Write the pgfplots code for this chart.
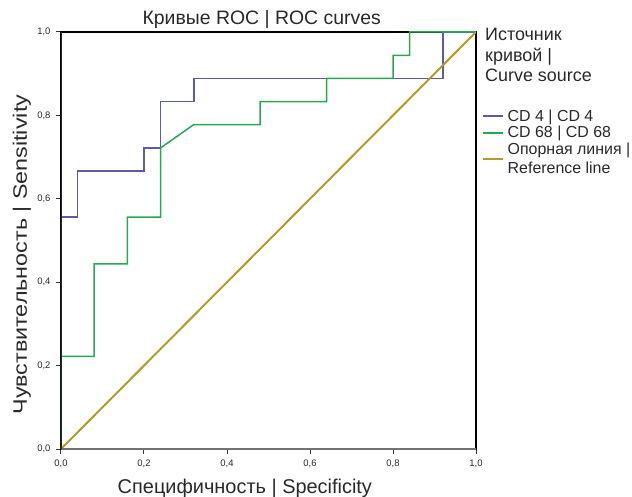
\documentclass[border=0pt]{standalone}
\usepackage{pgfplots}
\pgfplotsset{compat=1.18}
\usepackage{fontspec}
\setmainfont{Liberation Sans}
\definecolor{txt}{RGB}{40,40,40}
\definecolor{cdblue}{RGB}{92,92,165}
\definecolor{cdgreen}{RGB}{40,168,80}
\definecolor{refol}{RGB}{178,156,40}
\begin{document}
\begin{tikzpicture}
\begin{axis}[
  name=ax,
  at={(0,0)}, anchor=south west,
  scale only axis, width=415bp, height=417bp,
  xmin=0, xmax=1, ymin=0, ymax=1,
  xtick={0,0.2,0.4,0.6,0.8,1}, ytick={0,0.2,0.4,0.6,0.8,1},
  tick align=outside, xtick pos=bottom, ytick pos=left,
  major tick length=5bp,
  tick style={black!80, line width=1bp},
  /pgf/number format/.cd, fixed, fixed zerofill, precision=1, use comma, assume math mode=true,
  /pgfplots/.cd,
  ticklabel style={font=\fontsize{9.5}{10}\selectfont, text=txt},
  xticklabel style={yshift=-2bp},
  yticklabel style={xshift=-2bp},
  axis line style={black, line width=1.4bp},
  title={Кривые ROC | ROC curves},
  every axis title/.style={at={(rel axis cs:0.4836,1)}, anchor=base, yshift=7bp, font=\fontsize{19.5}{22}\selectfont, text=txt},
  xlabel={Специфичность | Specificity},
  every axis x label/.style={at={(rel axis cs:0.443,0)}, anchor=base, yshift=-44bp, font=\fontsize{20}{22}\selectfont, text=txt},
  ylabel={\scalebox{1.2}[1]{Чувствительность | Sensitivity}},
  every axis y label/.style={at={(rel axis cs:0,0.466)}, xshift=-39bp, rotate=90, anchor=center, font=\fontsize{19.5}{22}\selectfont, text=txt},
  legend style={at={(rel axis cs:1,1)}, anchor=north west, xshift=5bp, yshift=-75bp, draw=none, fill=none,
    font=\fontsize{16}{19}\selectfont, text=txt, row sep=0.5bp, inner sep=1bp,
    nodes={align=left, inner sep=1.5bp}},
  legend cell align=left,
  legend image code/.code={\draw[#1] (0bp,0bp) -- (20bp,0bp);},
]
\addplot[cdblue, line width=1.5bp] coordinates {
 (0,0) (0,0.556) (0.04,0.556) (0.04,0.667) (0.2,0.667) (0.2,0.722) (0.24,0.722)
 (0.24,0.833) (0.32,0.833) (0.32,0.889) (0.92,0.889) (0.92,1) (1,1)};
\addlegendentry{\hspace{2bp}CD 4 | CD 4}
\addplot[cdgreen, line width=1.5bp] coordinates {
 (0,0) (0,0.222) (0.08,0.222) (0.08,0.444) (0.16,0.444) (0.16,0.556) (0.24,0.556)
 (0.24,0.722) (0.32,0.778) (0.48,0.778) (0.48,0.833) (0.64,0.833) (0.64,0.889)
 (0.8,0.889) (0.8,0.944) (0.84,0.944) (0.84,1) (1,1)};
\addlegendentry{\hspace{2bp}CD 68 | CD 68}
\addplot[refol, line width=2bp] coordinates {(0,0) (1,1)};
\addlegendentry{\hspace{2bp}Опорная линия |\\\hspace{2bp}Reference line}
\draw[black!55, line width=2.6bp] (rel axis cs:0,0) -- (rel axis cs:1,0);
\draw[black!85, line width=2.6bp] (rel axis cs:0,0) -- (rel axis cs:0,1);
\end{axis}
\node[anchor=base west, align=left, font=\fontsize{18}{20.5}\selectfont, text=txt, inner sep=0pt]
  at ([xshift=9bp, yshift=-49.7bp]ax.north east) {Источник\\кривой |\\Curve source};
\pgfresetboundingbox
\path[use as bounding box] (-61bp,-48bp) rectangle (571bp,449bp);
\end{tikzpicture}
\end{document}
